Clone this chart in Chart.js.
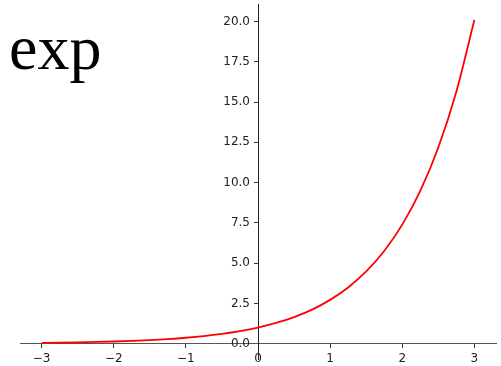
<!DOCTYPE html>
<html>
<head>
<meta charset="utf-8">
<script src="https://cdn.jsdelivr.net/npm/chart.js@4/dist/chart.umd.min.js"></script>
<style>
  html, body { margin: 0; padding: 0; background: #fff; }
  #wrap { position: relative; width: 501px; height: 366px; }
  #title {
    position: absolute; left: 9px; top: 0px;
    font-family: "Liberation Serif", "Times New Roman", serif;
    font-size: 64px; line-height: 1; color: #000;
    margin-top: 16px;
  }
</style>
</head>
<body>
<div id="wrap">
  <canvas id="c" width="501" height="366"></canvas>
  <div id="title">exp</div>
</div>
<script>
// Sampled curve y = e^x
const xs = [-3, -2.75, -2.5, -2.25, -2, -1.75, -1.5, -1.25, -1, -0.75, -0.5, -0.25,
            0, 0.25, 0.5, 0.75, 1, 1.25, 1.5, 1.75, 2, 2.25, 2.5, 2.75, 3];
const ys = [0.050, 0.064, 0.082, 0.105, 0.135, 0.174, 0.223, 0.287, 0.368, 0.472, 0.607, 0.779,
            1.000, 1.284, 1.649, 2.117, 2.718, 3.490, 4.482, 5.755, 7.389, 9.488, 12.18, 15.64, 20.09];

const xTicks = [-3, -2, -1, 0, 1, 2, 3];
const yTicks = [0, 2.5, 5, 7.5, 10, 12.5, 15, 17.5, 20];

const fmtMinus = v => (v < 0 ? '\u2212' + Math.abs(v) : String(v));

const tickFont = { family: 'DejaVu Sans', size: 12 };

// Labels for the y axis that crosses at x = 0, drawn to the left of its tick marks
const yLabelPlugin = {
  id: 'yLabels',
  afterDraw(chart) {
    const { ctx } = chart;
    const xs_ = chart.scales.x;
    const ys_ = chart.scales.y;
    const axisX = xs_.getPixelForValue(0);
    ctx.save();
    ctx.font = tickFont.size + 'px "' + tickFont.family + '"';
    ctx.fillStyle = '#222';
    ctx.textAlign = 'right';
    ctx.textBaseline = 'middle';
    ys_.ticks.forEach(t => {
      ctx.fillText(t.value.toFixed(1), axisX - 8, ys_.getPixelForValue(t.value));
    });
    ctx.restore();
  }
};

const noPad = s => { s.paddingTop = 0; s.paddingBottom = 0; s.paddingLeft = 0; s.paddingRight = 0; };

new Chart(document.getElementById('c'), {
  type: 'line',
  data: {
    datasets: [{
      data: xs.map((x, i) => ({ x: x, y: ys[i] })),
      borderColor: '#ff0000',
      borderWidth: 1.8,
      pointRadius: 0,
      fill: false,
      cubicInterpolationMode: 'monotone'
    }]
  },
  plugins: [yLabelPlugin],
  options: {
    responsive: false,
    animation: false,
    layout: { padding: { left: 20, right: 5, top: 4, bottom: 7 } },
    plugins: { legend: { display: false }, tooltip: { enabled: false } },
    scales: {
      x: {
        type: 'linear',
        position: { y: 0 },
        min: -3.3,
        max: 3.3,
        afterBuildTicks: s => { s.ticks = xTicks.map(v => ({ value: v })); },
        afterFit: noPad,
        ticks: {
          callback: v => fmtMinus(v),
          color: '#222',
          font: tickFont,
          padding: 4,
          maxRotation: 0,
          autoSkip: false
        },
        grid: { drawOnChartArea: false, drawTicks: true, tickLength: 4, tickColor: '#333', tickWidth: 1 },
        border: { display: true, color: '#555', width: 1 }
      },
      y: {
        type: 'linear',
        position: { x: 0 },
        min: -0.952,
        max: 21.087,
        afterBuildTicks: s => { s.ticks = yTicks.map(v => ({ value: v })); },
        afterFit: noPad,
        ticks: { display: false },
        grid: { drawOnChartArea: false, drawTicks: true, tickLength: 4, tickColor: '#333', tickWidth: 1 },
        border: { display: true, color: '#222', width: 1 }
      }
    }
  }
});
</script>
</body>
</html>
